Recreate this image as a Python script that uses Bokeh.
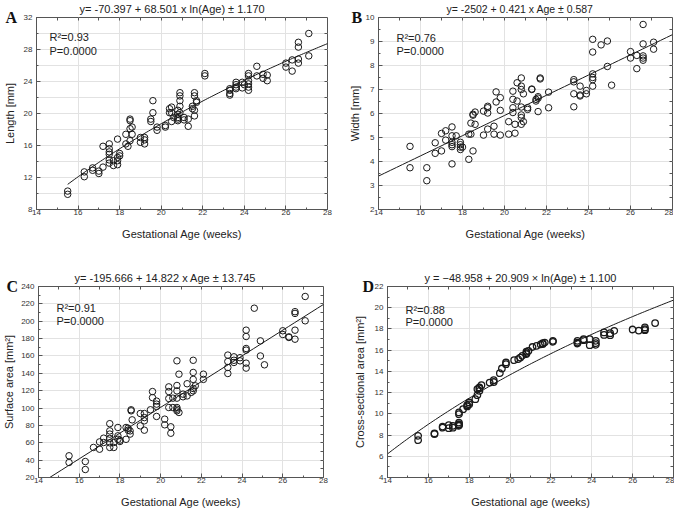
import numpy as np
from bokeh.plotting import figure
from bokeh.models import Label, SingleIntervalTicker, FixedTicker, LinearAxis, Range1d, Title
from bokeh.layouts import column, row
from bokeh.embed import file_html
from bokeh.resources import INLINE

FONT = "Liberation Sans"
SERIF = "Liberation Serif"

# ---------------- data: panel A (Length) ----------------
a_age = [15.5, 15.5, 16.3, 16.3, 16.7, 16.7, 17.0, 17.0, 17.2, 17.2,
         17.5, 17.5, 17.5, 17.5, 17.5, 17.5, 17.7, 17.7, 17.9, 17.9, 17.9, 17.9,
         18.0, 18.0, 18.3, 18.3, 18.4, 18.5, 18.5, 18.5, 18.5, 18.6, 18.6,
         19.0, 19.0, 19.2, 19.2, 19.2, 19.5, 19.5, 19.6, 19.6, 19.8, 19.8,
         20.2, 20.2, 20.4, 20.4, 20.5, 20.5, 20.5, 20.6,
         20.8, 20.8, 20.8, 20.8, 20.8, 20.9, 20.9, 20.9, 20.9, 20.9,
         21.1, 21.1, 21.3, 21.3, 21.5, 21.5, 21.6, 21.6, 21.6, 21.6, 21.7, 21.7,
         22.1, 22.1, 23.3, 23.3, 23.3, 23.3, 23.6, 23.6, 23.6, 23.6, 23.9, 23.9, 24.0,
         24.2, 24.2, 24.2, 24.2, 24.2, 24.2, 24.6, 24.6, 24.9, 24.9, 25.1, 25.1,
         26.0, 26.0, 26.3, 26.3, 26.6, 26.6, 26.6, 26.6, 27.1, 27.1]
a_len = [10.3, 9.9, 12.7, 12.1, 13.2, 12.9, 12.8, 12.5, 13.3, 15.9,
         16.2, 15.6, 15.2, 14.9, 14.2, 13.8, 14.1, 13.5, 16.8, 14.5, 14.1, 13.6,
         15.0, 14.7, 17.4, 16.2, 15.9, 19.3, 19.1, 18.1, 16.6, 18.3, 17.4,
         17.0, 16.4, 17.0, 16.7, 16.2, 19.3, 19.0, 21.6, 20.1, 18.3, 17.9,
         18.5, 18.3, 20.6, 20.1, 20.8, 20.1, 19.0, 19.5,
         20.4, 19.9, 19.5, 19.3, 19.1, 22.6, 22.2, 21.6, 20.9, 20.1,
         19.5, 19.2, 19.3, 18.4, 20.9, 20.6, 22.6, 22.2, 20.4, 19.7, 21.6, 21.4,
         25.0, 24.7, 23.1, 22.9, 22.5, 22.3, 23.9, 23.6, 23.3, 23.1, 23.9, 23.2, 23.6,
         25.0, 24.7, 24.1, 23.7, 23.3, 22.9, 25.9, 24.7, 24.9, 24.4, 24.8, 24.1,
         26.3, 25.8, 26.7, 25.3, 28.9, 28.3, 26.8, 26.3, 30.0, 27.2]

# ---------------- data: panel B (Width) ----------------
b_age = [15.5, 15.5, 16.3, 16.3, 16.7, 16.7, 17.0, 17.0, 17.2, 17.2,
         17.5, 17.5, 17.5, 17.5, 17.5, 17.5, 17.7, 17.9, 17.9, 17.9, 17.9, 18.0,
         18.3, 18.3, 18.4, 18.4, 18.5, 18.5, 18.5, 18.6, 18.6, 19.0, 19.0,
         19.2, 19.2, 19.2, 19.2, 19.5, 19.5, 19.6, 19.6, 19.8, 19.8, 19.8,
         20.2, 20.2, 20.4, 20.4, 20.4, 20.4, 20.5, 20.5, 20.6, 20.6,
         20.8, 20.8, 20.8, 20.8, 20.8, 20.8, 20.8, 20.9, 20.9,
         21.1, 21.1, 21.3, 21.3, 21.5, 21.5, 21.6, 21.6, 21.6, 21.7, 21.7,
         22.1, 22.1, 23.3, 23.3, 23.3, 23.3, 23.6, 23.6, 23.6, 23.9, 23.9,
         24.2, 24.2, 24.2, 24.2, 24.2, 24.2, 24.6, 24.9, 24.9, 25.1,
         26.0, 26.0, 26.3, 26.3, 26.6, 26.6, 26.6, 26.6, 26.6, 27.1, 27.1]
b_wid = [4.63, 3.74, 3.74, 3.2, 4.78, 4.34, 5.17, 4.44, 5.28, 4.89,
         5.44, 5.07, 4.8, 4.7, 4.62, 3.9, 5.07, 4.8, 4.7, 4.6, 4.5, 4.6,
         5.14, 4.09, 5.6, 5.14, 5.97, 5.93, 4.44, 6.06, 5.55, 6.1, 5.1,
         6.3, 6.24, 6.02, 5.35, 5.47, 5.14, 6.9, 6.48, 6.66, 6.13, 5.1,
         5.66, 5.14, 6.93, 6.59, 6.24, 6.04, 5.55, 5.18, 7.28, 6.52,
         7.48, 7.14, 7.0, 6.27, 5.94, 5.83, 5.55, 6.82, 5.66,
         6.24, 6.17, 7.02, 7.0, 6.59, 6.52, 6.7, 6.64, 6.08, 7.48, 7.44,
         6.89, 6.24, 7.41, 7.32, 6.82, 6.28, 7.14, 6.77, 6.73, 6.96, 6.82,
         9.09, 8.56, 7.65, 7.5, 7.41, 7.14, 8.86, 9.02, 7.96, 7.18,
         8.58, 8.31, 8.42, 7.87, 9.71, 8.9, 8.4, 8.31, 8.22, 8.97, 8.68]

# ---------------- data: panel C (Surface area) ----------------
c_age = [15.5, 15.5, 16.3, 16.3, 16.7, 17.0, 17.0, 17.2, 17.2,
         17.5, 17.5, 17.5, 17.5, 17.5, 17.5, 17.7, 17.7, 17.9, 17.9, 17.9,
         18.0, 18.0, 18.3, 18.3, 18.4, 18.4, 18.5, 18.5, 18.55, 18.55, 18.6,
         19.0, 19.0, 19.2, 19.2, 19.2, 19.2, 19.5, 19.6, 19.6,
         19.8, 19.8, 19.8, 19.8, 20.2, 20.2, 20.4, 20.4, 20.4, 20.4,
         20.5, 20.5, 20.6, 20.6, 20.8, 20.8, 20.8, 20.8, 20.8, 20.8, 20.8,
         20.9, 20.9, 21.1, 21.1, 21.3, 21.3, 21.5,
         21.6, 21.6, 21.6, 21.6, 21.6, 21.7, 22.1, 22.1,
         23.3, 23.3, 23.3, 23.3, 23.6, 23.6, 23.6, 23.9, 23.9,
         24.2, 24.2, 24.2, 24.2, 24.2, 24.2, 24.6, 24.9, 24.9, 25.1,
         26.0, 26.0, 26.3, 26.3, 26.6, 26.6, 26.6, 26.6, 27.1, 27.1]
c_area = [45, 37.3, 38.4, 29.2, 54.6, 52.6, 61, 65.3, 60.3,
          82, 73.7, 70, 65, 60, 54.6, 60.3, 54.6, 77.6, 68, 64,
          63, 61.5, 77.6, 64, 76.8, 74.5, 73.7, 70, 98, 96.8, 86.4,
          93.7, 79.5, 93.7, 89, 85.3, 74.5, 98, 119, 112,
          108, 104.5, 101.8, 90.3, 87.2, 80.7, 124.4, 119, 111, 100.6,
          78.4, 71, 111.4, 100.6, 154.4, 126, 119.8, 111.4, 100.6, 98.7, 96.8,
          139, 94.9, 116, 113, 128, 114, 118,
          155, 141, 133, 122.5, 119.8, 125.6, 139, 133,
          161, 153.6, 146.7, 139.8, 159, 155, 152.5, 158, 154.4,
          189.7, 182.4, 168.6, 166.7, 151.7, 146, 215, 177.4, 160, 149.8,
          189, 184.7, 182, 181.3, 211, 209, 189.7, 179.3, 228.5, 200.5]

# ---------------- data: panel D (Cross-sectional area) ----------------
d_age = [15.5, 15.5, 16.3, 16.3, 16.7, 16.7, 17.0, 17.0, 17.2, 17.2,
         17.5, 17.5, 17.5, 17.5, 17.5, 17.5, 17.7, 17.9, 17.9, 18.0, 18.0, 18.3,
         18.4, 18.4, 18.5, 18.5, 18.5, 18.6, 19.0, 19.2, 19.2, 19.5, 19.6,
         19.8, 19.8, 20.2, 20.4, 20.5, 20.6, 20.8, 20.8, 20.8, 20.9,
         21.1, 21.3, 21.5, 21.6, 21.6, 21.7, 22.1, 22.1,
         23.3, 23.3, 23.3, 23.6, 23.6, 23.9, 23.9, 24.2, 24.2, 24.2,
         24.6, 24.6, 24.9, 24.9, 25.1, 26.0, 26.3, 26.6, 26.6, 26.6, 27.1]
d_cs = [7.93, 7.52, 8.15, 8.1, 8.8, 8.7, 8.93, 8.65, 8.87, 8.7,
        10.13, 9.97, 9.18, 9.03, 8.95, 8.87, 10.44, 10.82, 10.7, 11.07, 10.9, 11.38,
        11.76, 12.33, 12.48, 12.4, 12.17, 12.7, 12.95, 13.17, 13.0, 13.83, 14.27,
        14.68, 14.84, 15.06, 15.15, 15.3, 15.47, 15.72, 15.85, 15.62, 15.94,
        16.3, 16.4, 16.54, 16.66, 16.57, 16.72, 16.88, 16.79,
        16.88, 16.72, 16.63, 17.04, 16.94, 17.04, 16.47, 16.88, 16.66, 16.5,
        17.67, 17.44, 17.6, 17.41, 17.82, 17.95, 17.85, 18.14, 17.98, 17.88, 18.55]

# regression coefficients shown in the panel titles
a_fit = (-70.397, 68.501)   # log10(Age)
b_fit = (-2.502, 0.421)     # Age
c_fit = (-195.666, 14.822)  # Age
d_fit = (-48.958, 20.909)   # ln(Age)

titles = ["y= -70.397 + 68.501 x ln(Age) \u00b1 1.170",
          "y= -2502 + 0.421 x Age \u00b1 0.587",
          "y= -195.666 + 14.822 x Age \u00b1 13.745",
          "y = \u221248.958 + 20.909 \u00d7 ln(Age) \u00b1 1.100"]
r2_texts = ["R\u00b2=0.93", "R\u00b2=0.76", "R\u00b2=0.91", "R\u00b2=0.88"]
p_text = "P=0.0000"
letters = ["A", "B", "C", "D"]
y_labels = ["Length [mm]", "Width [mm]", "Surface area [mm\u00b2]",
            "Cross-sectional area [mm\u00b2]"]
x_labels = ["Gestational Age (weeks)", "Gestational Age (weeks)",
            "Gestational Age (weeks)", "Gestational age (weeks)"]

AX = "#555555"
GRID = "#e2e2e2"


def make_panel(frame, borders, yr, ytick, idx, ylab_standoff, title_off,
               title_size, letter_off, r2_off, minor_ygrid=False):
    p = figure(frame_width=frame[0], frame_height=frame[1],
               output_backend="svg", toolbar_location=None,
               x_range=Range1d(14, 28), y_range=Range1d(*yr),
               min_border_left=borders[0], min_border_right=borders[1],
               min_border_top=borders[2], min_border_bottom=borders[3],
               background_fill_color="white", border_fill_color="white")
    p.outline_line_color = AX
    p.outline_line_width = 1
    p.xaxis.ticker = SingleIntervalTicker(interval=2, num_minor_ticks=2)
    p.yaxis.ticker = SingleIntervalTicker(interval=ytick, num_minor_ticks=2)
    p.xaxis.axis_label = x_labels[idx]
    p.yaxis.axis_label = y_labels[idx]
    for ax in p.axis:
        ax.major_tick_in = 4
        ax.major_tick_out = 0
        ax.minor_tick_in = 2
        ax.minor_tick_out = 0
        ax.axis_line_color = AX
        ax.major_tick_line_color = AX
        ax.minor_tick_line_color = AX
        ax.major_label_text_font = FONT
        ax.major_label_text_font_size = "8px"
        ax.major_label_text_color = "#333333"
        ax.axis_label_text_font = FONT
        ax.axis_label_text_font_size = "11px"
        ax.axis_label_text_font_style = "normal"
        ax.axis_label_text_color = "#222222"
    p.xaxis.major_label_standoff = 0
    p.xaxis.axis_label_standoff = 10
    p.yaxis.major_label_standoff = 4
    p.yaxis.axis_label_standoff = ylab_standoff
    p.xgrid.grid_line_color = GRID
    p.ygrid.grid_line_color = GRID
    if minor_ygrid:
        p.ygrid.minor_grid_line_color = GRID

    # small inward tick marks on the top and right edges of the box
    # (axes pinned to the frame edge, so they take no layout space)
    top_marks = list(np.arange(15, 28, 1.0))
    right_marks = list(np.arange(yr[0] + ytick / 2, yr[1], ytick / 2))
    p.add_layout(LinearAxis(fixed_location=yr[1],
                            ticker=FixedTicker(ticks=[], minor_ticks=top_marks),
                            axis_line_color=None, major_tick_in=0, major_tick_out=0,
                            minor_tick_in=3, minor_tick_out=0,
                            minor_tick_line_color=AX), "above")
    p.add_layout(LinearAxis(fixed_location=28,
                            ticker=FixedTicker(ticks=[], minor_ticks=right_marks),
                            axis_line_color=None, major_tick_in=0, major_tick_out=0,
                            minor_tick_in=3, minor_tick_out=0,
                            minor_tick_line_color=AX), "right")

    # panel letter: zero-height title sitting on the frame's top edge
    p.add_layout(Title(text=letters[idx], align="left", offset=letter_off,
                       vertical_align="middle", standoff=-20,
                       text_font=SERIF, text_font_size="16px",
                       text_font_style="bold", text_color="#111111"), "above")
    # regression equation
    p.add_layout(Title(text=titles[idx], align="left", offset=title_off,
                       vertical_align="top", standoff=2,
                       text_font=FONT, text_font_size=title_size,
                       text_font_style="normal", text_color="#222222"), "above")

    ytop = yr[1]
    p.add_layout(Label(x=14, y=ytop, x_offset=r2_off[0], y_offset=-r2_off[1],
                       text=r2_texts[idx], text_align="left", text_baseline="middle",
                       text_font=FONT, text_font_size="11px", text_color="#222222"))
    p.add_layout(Label(x=14, y=ytop, x_offset=r2_off[0], y_offset=-r2_off[2],
                       text=p_text, text_align="left", text_baseline="middle",
                       text_font=FONT, text_font_size="11px", text_color="#222222"))
    return p


def add_points(p, xs, ys, lw=1.0):
    p.scatter(xs, ys, marker="circle", size=6.5, fill_color=None,
              line_color="#1a1a1a", line_width=lw)


# Panel A
pA = make_panel((291, 192), (31, 12, 17, 46), (8, 32), 4, 0, 5, 43, "11px",
                -31, (13, 19.5, 33.5), minor_ygrid=True)
xa = np.linspace(15.5, 28, 120)
pA.line(xa, a_fit[0] + a_fit[1] * np.log10(xa), line_color="#1a1a1a", line_width=1)
add_points(pA, a_age, a_len)

# Panel B
pB = make_panel((294, 192), (39, 1, 17, 46), (2, 10), 1, 1, 2, 68, "10.5px",
                -27, (18, 20, 33))
xb = np.linspace(14, 28, 50)
pB.line(xb, b_fit[0] + b_fit[1] * xb, line_color="#1a1a1a", line_width=1)
add_points(pB, b_age, b_wid)

# Panel C
pC = make_panel((285, 191), (32, 17, 31, 30), (20, 240), 20, 2, 3, 36, "11px",
                -32, (18, 21, 34))
xc = np.linspace(14, 28, 50)
pC.line(xc, c_fit[0] + c_fit[1] * xc, line_color="#1a1a1a", line_width=1)
add_points(pC, c_age, c_area)

# Panel D
pD = make_panel((286, 191), (47, 1, 31, 30), (4, 22), 2, 3, 6, 37, "11px",
                -25, (18, 23, 35))
xd = np.linspace(14, 28, 120)
pD.line(xd, d_fit[0] + d_fit[1] * np.log(xd), line_color="#1a1a1a", line_width=1)
add_points(pD, d_age, d_cs, lw=1.3)

layout = column(row(pA, pB), row(pC, pD))

open("out.html", "w").write(file_html(layout, INLINE))
